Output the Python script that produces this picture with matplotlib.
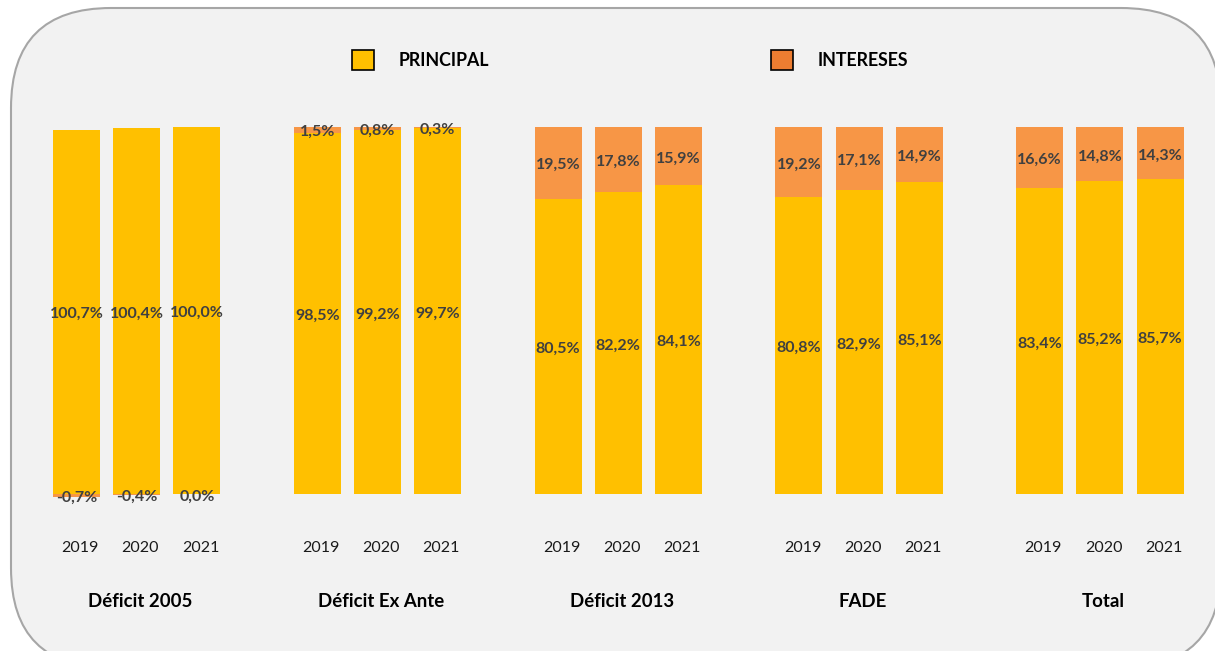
import matplotlib
matplotlib.use("Agg")
import matplotlib.pyplot as plt
from matplotlib.patches import FancyBboxPatch, Patch
from matplotlib.transforms import offset_copy
import numpy as np

plt.rcParams['font.family'] = ['Lato', 'DejaVu Sans']

groups = ["Déficit 2005", "Déficit Ex Ante", "Déficit 2013", "FADE", "Total"]
years = ["2019", "2020", "2021"]
principal = [[100.7, 100.4, 100.0],
             [98.5, 99.2, 99.7],
             [80.5, 82.2, 84.1],
             [80.8, 82.9, 85.1],
             [83.4, 85.2, 85.7]]
intereses = [[-0.7, -0.4, 0.0],
             [1.5, 0.8, 0.3],
             [19.5, 17.8, 15.9],
             [19.2, 17.1, 14.9],
             [16.6, 14.8, 14.3]]
series_names = ["PRINCIPAL", "INTERESES"]

C_PRIN = "#FFC000"
C_INT = "#F79646"
C_INT_LEG = "#ED7D31"
LBL = "#404040"

W, H = 1215, 651
fig = plt.figure(figsize=(W / 100, H / 100), dpi=100)
fig.patch.set_facecolor("white")

# background rounded panel (pixel coordinate axes)
bg = fig.add_axes([0, 0, 1, 1])
bg.set_xlim(0, W)
bg.set_ylim(H, 0)
bg.axis("off")
bg.add_patch(FancyBboxPatch((11 + 100, 8 + 100), 1210 - 200, 660 - 200,
                            boxstyle="round,pad=100,rounding_size=100",
                            facecolor="#F2F2F2", edgecolor="#A6A6A6", linewidth=1.5))

# main chart axes
x0px, slot = 76.5, 60.2
xl = (-0.9, 18.9)
y0px, ppu = 494.0, 3.67
yl = (-10, 110)
left = (x0px + xl[0] * slot) / W
right = (x0px + xl[1] * slot) / W
bottom_px = y0px - yl[0] * ppu
top_px = y0px - yl[1] * ppu
ax = fig.add_axes([left, 1 - bottom_px / H, right - left, (bottom_px - top_px) / H])
ax.set_xlim(*xl)
ax.set_ylim(*yl)
ax.axis("off")
ax.patch.set_alpha(0)

lbl_tr = offset_copy(ax.transData, fig=fig, x=0, y=-2.5, units="dots")

def fmt(v):
    return f"{v:.1f}".replace(".", ",") + "%"

bw = 0.78
for g, name in enumerate(groups):
    p = np.array(principal[g], dtype=float)
    i = np.array(intereses[g], dtype=float)
    tot = np.abs(p) + np.abs(i)
    ps = p / tot * 100
    is_ = i / tot * 100
    xs = g * 4 + np.arange(3)
    ax.bar(xs, ps, width=bw, color=C_PRIN, edgecolor="none")
    ib = np.where(is_ > 0, ps, 0)
    ax.bar(xs, is_, bottom=ib, width=bw, color=C_INT, edgecolor="none")
    for k in range(3):
        ax.text(xs[k], ps[k] / 2, fmt(p[k]), ha="center", va="center",
                fontsize=11.5, fontweight="bold", color=LBL, transform=lbl_tr)
        ax.text(xs[k], ib[k] + is_[k] / 2, fmt(i[k]), ha="center", va="center",
                fontsize=11.5, fontweight="bold", color=LBL, clip_on=False,
                transform=lbl_tr)
        ax.text(xs[k] + 0.06, -14.8, years[k], ha="center", va="center",
                fontsize=11.5, color="#1a1a1a", clip_on=False)
    ax.text(xs[1] + 0.06, -29.2, name, ha="center", va="center", fontsize=13.4,
            fontweight="bold", color="black", clip_on=False)

handles = [Patch(facecolor=C_PRIN, edgecolor="black", linewidth=1.2),
           Patch(facecolor=C_INT_LEG, edgecolor="black", linewidth=1.2)]
fig.legend(handles, series_names, loc="center", bbox_to_anchor=(630 / W, 1 - 60 / H),
           ncol=2, frameon=False, prop={"weight": "bold", "size": 12.8},
           handlelength=1.24, handleheight=1.35, handletextpad=1.35, columnspacing=15.9)

fig.savefig("out.png", dpi=100)
